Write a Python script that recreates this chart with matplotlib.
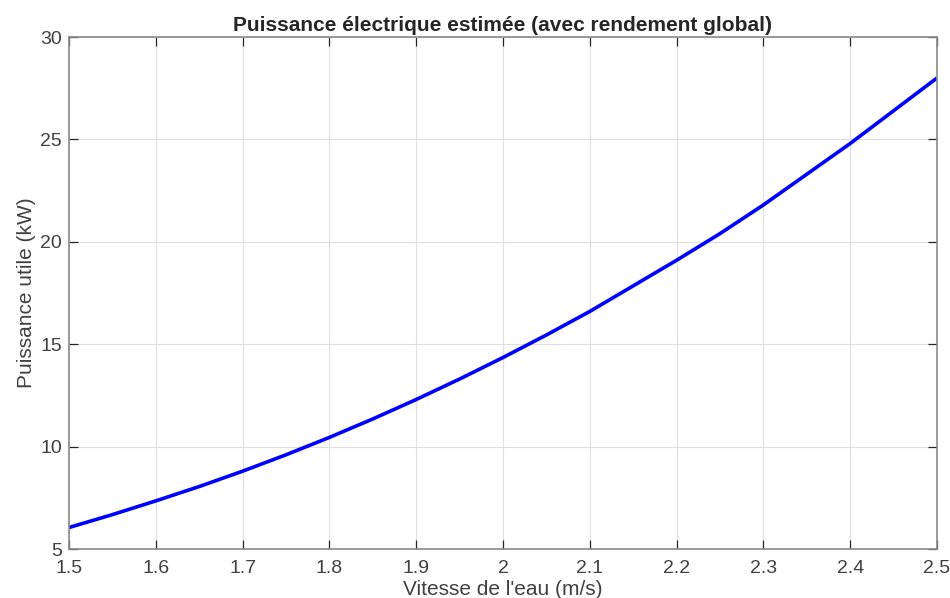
import numpy as np
import matplotlib
matplotlib.use("Agg")
import matplotlib.pyplot as plt

# -------------------------------------------------------------------
# Data
# -------------------------------------------------------------------
vitesse = [1.50, 1.55, 1.60, 1.65, 1.70, 1.75, 1.80, 1.85, 1.90, 1.95, 2.00,
           2.05, 2.10, 2.15, 2.20, 2.25, 2.30, 2.35, 2.40, 2.45, 2.50]
puissance = [6.05, 6.68, 7.35, 8.05, 8.80, 9.60, 10.45, 11.35, 12.30, 13.30, 14.35,
             15.45, 16.60, 17.85, 19.10, 20.40, 21.80, 23.30, 24.80, 26.40, 28.00]

x_ticks = [1.5, 1.6, 1.7, 1.8, 1.9, 2.0, 2.1, 2.2, 2.3, 2.4, 2.5]
x_tick_labels = ["1.5", "1.6", "1.7", "1.8", "1.9", "2", "2.1", "2.2", "2.3", "2.4", "2.5"]
y_ticks = [5, 10, 15, 20, 25, 30]

plt.rcParams["font.family"] = ["Liberation Sans", "DejaVu Sans"]

fig = plt.figure(figsize=(9.5, 5.98), dpi=100)
ax = fig.add_axes([0.0726, 0.0819, 0.9137, 0.8562])

ax.plot(vitesse, puissance, color="#0000ff", linewidth=2.6, solid_capstyle="butt")

ax.set_xlim(1.5, 2.5)
ax.set_ylim(5, 30)
ax.set_xticks(x_ticks)
ax.set_xticklabels(x_tick_labels)
ax.set_yticks(y_ticks)

ax.grid(True, color="#dedede", linewidth=0.8)
ax.set_axisbelow(True)

for s in ax.spines.values():
    s.set_color("#8a8a8a")
    s.set_linewidth(1.2)

ax.tick_params(direction="in", length=6.5, width=0.9, color="#262626",
               labelsize=14, labelcolor="#404040", top=True, right=True)
ax.tick_params(axis="x", pad=8)
ax.tick_params(axis="y", pad=5)

ax.set_title("Puissance électrique estimée (avec rendement global)",
             fontsize=15, fontweight="bold", color="#262626", pad=4)
ax.set_xlabel("Vitesse de l'eau (m/s)", fontsize=15, color="#404040", labelpad=2)
ax.set_ylabel("Puissance utile (kW)", fontsize=15, color="#404040", labelpad=3)

fig.savefig("out.png", dpi=100)
